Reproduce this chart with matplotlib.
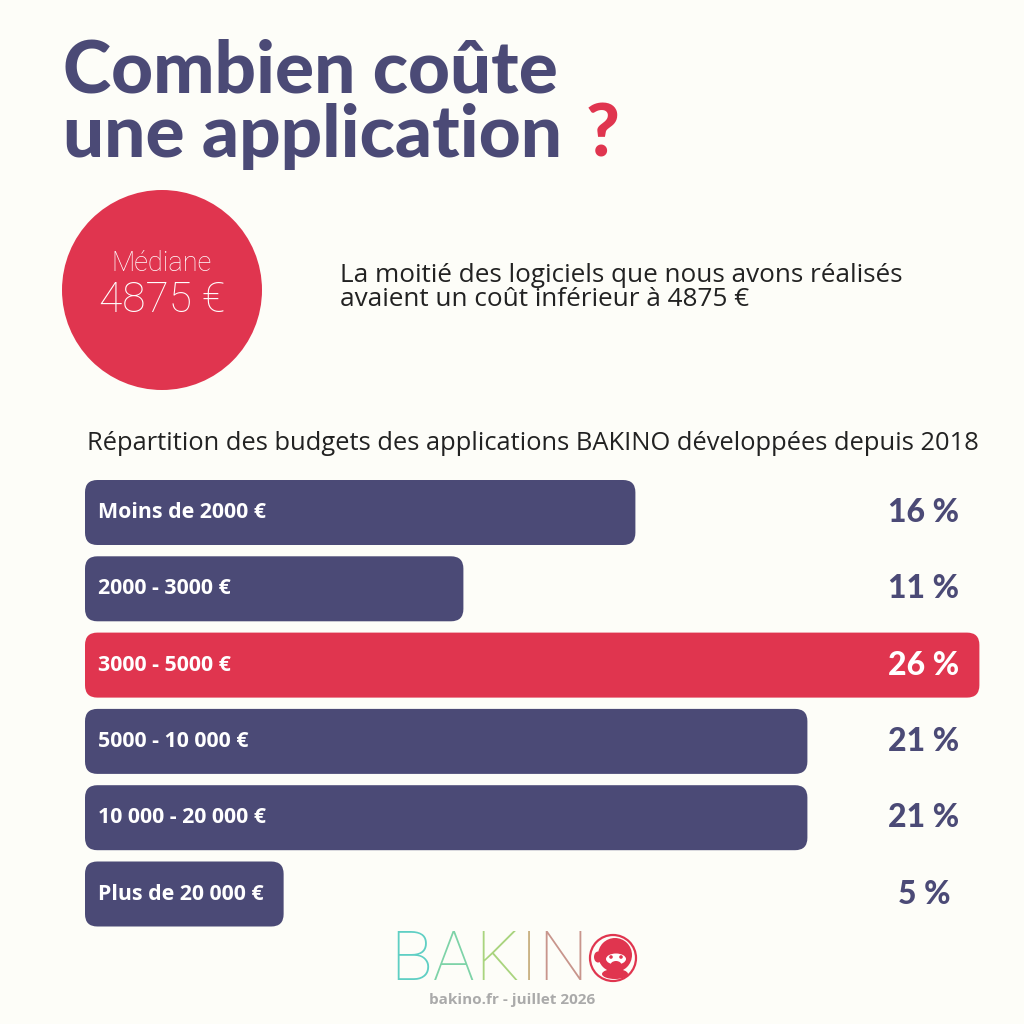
import numpy as np
import matplotlib.pyplot as plt
from matplotlib.patches import FancyBboxPatch, Circle, Ellipse

# data
categories = ["Moins de 2000 €", "2000 - 3000 €", "3000 - 5000 €",
              "5000 - 10 000 €", "10 000 - 20 000 €", "Plus de 20 000 €"]
shares = [16, 11, 26, 21, 21, 5]
highlight = "3000 - 5000 €"
median_value = 4875

NAVY = "#4b4a76"
RED = "#e0354f"
BG = "#fdfdf8"

W = H = 1024
fig = plt.figure(figsize=(W / 100, H / 100), dpi=100, facecolor=BG)
renderer = fig.canvas.get_renderer()

# page axes in pixel coordinates
page = fig.add_axes([0, 0, 1, 1])
page.set_xlim(0, W)
page.set_ylim(H, 0)
page.axis("off")
page_inv = page.transData.inverted()

# title
page.text(63, 72, "Combien coûte", fontsize=52.5, fontweight="black", family="Lato",
          color=NAVY, va="center", ha="left")
t2 = page.text(63, 136, "une application", fontsize=52.5, fontweight="black", family="Lato",
               color=NAVY, va="center", ha="left")
t2_end = page_inv.transform((t2.get_window_extent(renderer).x1, 0))[0]
page.text(t2_end + 24, 136, "?", fontsize=52.5, fontweight="black", family="Lato",
          color=RED, va="center", ha="left")

# median circle
page.add_patch(Circle((162, 290), 100, color=RED, lw=0))
page.text(162, 271, "Médiane", fontsize=19.5, fontweight="light", family="Roboto",
          color="white", ha="center", va="baseline")
page.text(162, 312, f"{median_value} €", fontsize=30.5, fontweight="light", family="Roboto",
          color="white", ha="center", va="baseline")
page.text(340, 275, "La moitié des logiciels que nous avons réalisés",
          fontsize=18.8, family="Open Sans", color="#222222", ha="left", va="center")
page.text(340, 300, f"avaient un coût inférieur à {median_value} €",
          fontsize=18.8, family="Open Sans", color="#222222", ha="left", va="center")

page.text(87, 444, "Répartition des budgets des applications BAKINO développées depuis 2018",
          fontsize=18.4, family="Open Sans", color="#222222", ha="left", va="center")

# bar axes: x in percent, rows of 76.3 px
x0_px, px_per_pct = 85, 34.4
row_px = 76.3
top_px = 480 - (row_px - 65) / 2
n = len(categories)
ax = fig.add_axes([x0_px / W, 1 - (top_px + n * row_px) / H,
                   (W - x0_px) / W, n * row_px / H])
ax.set_xlim(0, (W - x0_px) / px_per_pct)
ax.set_ylim(n - 0.5, -0.5)
ax.axis("off")

bar_h = 65 / row_px
aspect = px_per_pct / row_px
inv = ax.transData.inverted()
for i, (cat, v) in enumerate(zip(categories, shares)):
    col = RED if cat == highlight else NAVY
    lab = ax.text(13 / px_per_pct, i, cat, fontsize=15.4, fontweight="bold", family="Open Sans",
                  color="white", ha="left", va="center", zorder=3)
    ext = lab.get_window_extent(renderer)
    lab_end = inv.transform((ext.x1, ext.y0))[0]
    width = max(v, lab_end + 20 / px_per_pct)
    ax.add_patch(FancyBboxPatch((0, i - bar_h / 2), width, bar_h,
                                boxstyle="round,pad=0,rounding_size=0.36",
                                mutation_aspect=aspect, fc=col, ec="none", zorder=2))
    ax.text((924 - x0_px) / px_per_pct, i, f"{v} %", fontsize=23, fontweight="black",
            family="Lato", color="white" if cat == highlight else NAVY,
            ha="center", va="center", zorder=3)

# logo
letters = ["B", "A", "K", "I", "N"]
letter_cols = ["#5fcfc4", "#7ed3a8", "#a9d47e", "#c8b080", "#c8958c"]
lx = 390
for ch, c in zip(letters, letter_cols):
    tx = page.text(lx, 961, ch, fontsize=50, fontweight="light", family="Roboto",
                   color=c, ha="left", va="center")
    ext = tx.get_window_extent(renderer)
    lx += ext.width * 1.02
cx, cy = 613, 958
page.add_patch(Circle((cx, cy), 23, fc="none", ec=RED, lw=1.6))
page.add_patch(Circle((cx + 2, cy - 3), 17, fc=RED, ec="none"))
page.add_patch(Ellipse((cx - 15, cy - 1), 8, 11, fc=RED, ec="none"))
page.add_patch(Ellipse((cx + 3, cy + 1), 20, 11, fc="white", ec="none"))
page.add_patch(Ellipse((cx + 3, cy + 7), 11, 8, fc=RED, ec="none"))
page.add_patch(Circle((cx - 2, cy - 1), 1.8, fc=RED, ec="none"))
page.add_patch(Circle((cx + 8, cy - 1), 1.8, fc=RED, ec="none"))
page.add_patch(Ellipse((cx + 2, cy + 16), 26, 10, fc=RED, ec="none"))
page.text(512, 1000, "bakino.fr - juillet 2026", fontsize=11, fontweight="bold",
          family="Open Sans", color="#aaaaaa", ha="center", va="center")

fig.savefig("out.png", dpi=100, facecolor=BG)
